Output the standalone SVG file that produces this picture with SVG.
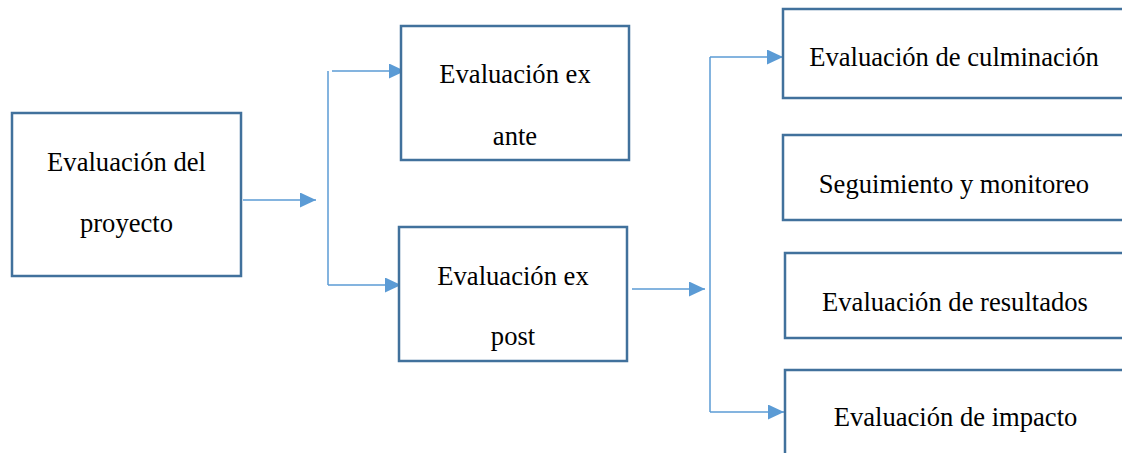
<svg xmlns="http://www.w3.org/2000/svg" width="1122" height="453" viewBox="0 0 1122 453">
  <defs>
    <style>
      .box { fill: #ffffff; stroke: #41719C; stroke-width: 2.5; }
      .lbl { font-family: "Liberation Serif", "Times New Roman", serif; font-size: 26.6px; fill: #000000; text-anchor: middle; }
      .conn { fill: none; stroke: #5B9BD5; stroke-width: 1.5; }
    </style>
    <marker id="arr" viewBox="0 0 16 15" refX="16" refY="7.5" markerWidth="16" markerHeight="15" markerUnits="userSpaceOnUse" orient="auto">
      <path d="M0,0 L16,7.5 L0,15 Z" fill="#5B9BD5"/>
    </marker>
  </defs>
  <rect width="1122" height="453" fill="#ffffff"/>

  <g id="connectors">
    <line class="conn" x1="243" y1="200" x2="316" y2="200" marker-end="url(#arr)"/>
    <line class="conn" x1="328" y1="71" x2="328" y2="285"/>
    <line class="conn" x1="332" y1="71" x2="405" y2="71" marker-end="url(#arr)"/>
    <line class="conn" x1="328" y1="285" x2="401" y2="285" marker-end="url(#arr)"/>
    <line class="conn" x1="632" y1="289" x2="705" y2="289" marker-end="url(#arr)"/>
    <line class="conn" x1="710" y1="57" x2="710" y2="412"/>
    <line class="conn" x1="710" y1="57" x2="783" y2="57" marker-end="url(#arr)"/>
    <line class="conn" x1="710" y1="412" x2="784" y2="412" marker-end="url(#arr)"/>
  </g>

  <g id="node-proyecto">
    <rect class="box" x="12" y="113" width="229" height="163"/>
    <text class="lbl" x="126.5" y="171">Evaluación del</text>
    <text class="lbl" x="126.5" y="232">proyecto</text>
  </g>

  <g id="node-exante">
    <rect class="box" x="401" y="26" width="228" height="134"/>
    <text class="lbl" x="515" y="83">Evaluación ex</text>
    <text class="lbl" x="515" y="145">ante</text>
  </g>

  <g id="node-expost">
    <rect class="box" x="399" y="227" width="228" height="134"/>
    <text class="lbl" x="513" y="285">Evaluación ex</text>
    <text class="lbl" x="513" y="345">post</text>
  </g>

  <g id="node-culminacion">
    <rect class="box" x="783" y="9" width="350" height="89"/>
    <text class="lbl" x="954" y="65.5">Evaluación de culminación</text>
  </g>

  <g id="node-seguimiento">
    <rect class="box" x="783" y="135" width="350" height="85"/>
    <text class="lbl" x="954" y="193">Seguimiento y monitoreo</text>
  </g>

  <g id="node-resultados">
    <rect class="box" x="785" y="253" width="350" height="85"/>
    <text class="lbl" x="955" y="311">Evaluación de resultados</text>
  </g>

  <g id="node-impacto">
    <rect class="box" x="785" y="370" width="350" height="100"/>
    <text class="lbl" x="955.5" y="426">Evaluación de impacto</text>
  </g>
</svg>
